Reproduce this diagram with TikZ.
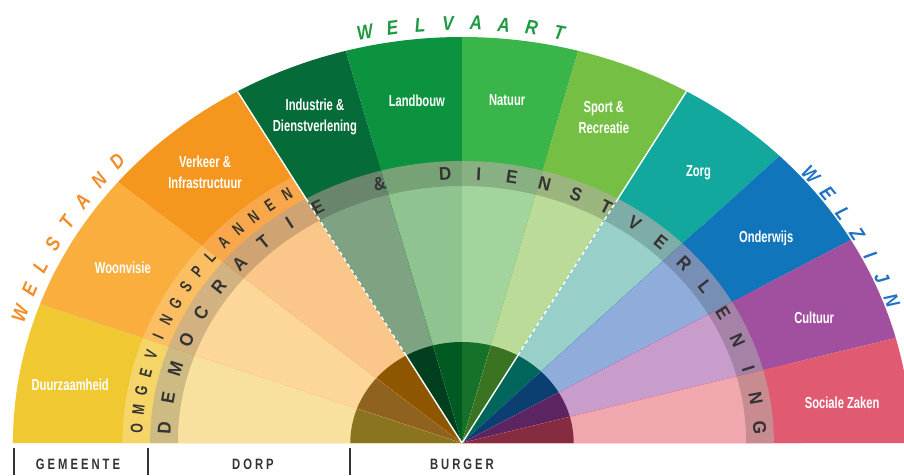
\documentclass[tikz,border=0pt]{standalone}
\usepackage{fontspec}
\setmainfont{Liberation Sans}
\newfontfamily\labelfont[FakeStretch=0.7]{Liberation Sans}
\newfontfamily\welfont[FakeStretch=0.85]{Liberation Sans}
\newfontfamily\demofont[FakeStretch=0.92]{Liberation Sans}
\newfontfamily\planfont[FakeStretch=0.72]{Liberation Sans}
\newfontfamily\basefont[FakeStretch=0.75,LetterSpace=20]{Liberation Sans}

\definecolor{duurzaam}{HTML}{F0C832}
\definecolor{duurzaamB}{HTML}{F5D468}
\definecolor{duurzaamL}{HTML}{F8E09E}
\definecolor{duurzaamD}{HTML}{8A7420}
\definecolor{woon}{HTML}{F9AE3E}
\definecolor{woonB}{HTML}{FBBE62}
\definecolor{woonL}{HTML}{FDD79A}
\definecolor{woonD}{HTML}{8F6220}
\definecolor{verkeer}{HTML}{F5961F}
\definecolor{verkeerB}{HTML}{F8A84A}
\definecolor{verkeerL}{HTML}{FAC68A}
\definecolor{verkeerD}{HTML}{8F5600}
\definecolor{industrie}{HTML}{056B38}
\definecolor{industrieL}{HTML}{7FA283}
\definecolor{industrieD}{HTML}{013F1F}
\definecolor{landbouw}{HTML}{0C9340}
\definecolor{landbouwL}{HTML}{8FC38F}
\definecolor{landbouwD}{HTML}{005A22}
\definecolor{natuur}{HTML}{39B54A}
\definecolor{natuurL}{HTML}{A4D49E}
\definecolor{natuurD}{HTML}{16722A}
\definecolor{sport}{HTML}{74BF44}
\definecolor{sportL}{HTML}{BADC98}
\definecolor{sportD}{HTML}{3A7322}
\definecolor{zorg}{HTML}{13A89E}
\definecolor{zorgL}{HTML}{98CFC9}
\definecolor{zorgD}{HTML}{00665C}
\definecolor{onderwijs}{HTML}{1175BB}
\definecolor{onderwijsL}{HTML}{90ACDA}
\definecolor{onderwijsD}{HTML}{0B3F72}
\definecolor{cultuur}{HTML}{A0509E}
\definecolor{cultuurL}{HTML}{C89CCB}
\definecolor{cultuurD}{HTML}{5C2460}
\definecolor{sociaal}{HTML}{E05A72}
\definecolor{sociaalL}{HTML}{F0A8AE}
\definecolor{sociaalD}{HTML}{852C40}
\colorlet{industrieB}{industrie}
\colorlet{landbouwB}{landbouw}
\colorlet{natuurB}{natuur}
\colorlet{sportB}{sport}
\colorlet{zorgB}{zorg}
\colorlet{onderwijsB}{onderwijs}
\colorlet{cultuurB}{cultuur}
\colorlet{sociaalB}{sociaal}
\definecolor{welstandtxt}{HTML}{F28C28}
\definecolor{welvaarttxt}{HTML}{1E9A40}
\definecolor{welzijntxt}{HTML}{2172C4}
\definecolor{ink}{HTML}{333333}

\tikzset{
  fanlabel/.style={text=white, font=\labelfont\bfseries\fontsize{16}{21}\selectfont, align=center, inner sep=0pt},
  welletter/.style={font=\welfont\bfseries\itshape\fontsize{20}{20}\selectfont, inner sep=0pt},
  bandletter/.style={text=ink, font=\demofont\bfseries\fontsize{18.5}{18.5}\selectfont, inner sep=0pt},
  planletter/.style={text=ink, font=\planfont\bfseries\fontsize{17}{17}\selectfont, inner sep=0pt},
  baselabel/.style={text=ink, font=\basefont\bfseries\fontsize{15}{15}\selectfont, inner sep=0pt},
  basetick/.style={draw=ink, line width=1.4pt},
  divider/.style={white, line width=1.4pt}
}

\begin{document}
\begin{tikzpicture}[x=1pt, y=1pt]
\useasboundingbox (-462,-32) rectangle (442,443);
\begin{scope}[xscale=1.106]
\foreach \a/\b/\col in {180/160/duurzaam, 160/140/woon, 140/120/verkeer,
  120/105/industrie, 105/90/landbouw, 90/75/natuur, 75/60/sport,
  60/45/zorg, 45/30/onderwijs, 30/15/cultuur, 15/0/sociaal}{
  \fill[fill=\col] (0,0) -- (\a:406pt) arc[start angle=\a, end angle=\b, radius=406pt] -- cycle;
  \fill[fill=\col B] (0,0) -- (\a:307pt) arc[start angle=\a, end angle=\b, radius=307pt] -- cycle;
  \fill[fill=\col L] (0,0) -- (\a:282pt) arc[start angle=\a, end angle=\b, radius=282pt] -- cycle;
  \fill[fill=\col D] (0,0) -- (\a:101pt) arc[start angle=\a, end angle=\b, radius=101pt] -- cycle;
}
\fill[black, opacity=0.17] (180:282pt) arc[start angle=180, end angle=0, radius=282pt]
  -- (0:257pt) arc[start angle=0, end angle=180, radius=257pt] -- cycle;
\foreach \a in {120,60}{
  \draw[divider] (0,0) -- (\a:101pt);
  \draw[divider, dash pattern=on 4pt off 3pt] (\a:101pt) -- (\a:282pt);
  \draw[divider] (\a:282pt) -- (\a:406pt);
}

\node[fanlabel] (duurzaamheid) at (170.7:359pt) {Duurzaamheid};
\node[fanlabel] (woonvisie) at (150.3:353pt) {Woonvisie};
\node[fanlabel] (verkeer) at (130.6:357pt) {Verkeer \&\\Infrastructuur};
\node[fanlabel] (industrie) at (112.2:352pt) {Industrie \&\\Dienstverlening};
\node[fanlabel] (landbouw) at (96.8:345pt) {Landbouw};
\node[fanlabel] (natuur) at (83.2:345pt) {Natuur};
\node[fanlabel] (sport) at (68.5:350pt) {Sport \&\\Recreatie};
\node[fanlabel] (zorg) at (51.7:345pt) {Zorg};
\node[fanlabel] (onderwijs) at (36.7:343pt) {Onderwijs};
\node[fanlabel] (cultuur) at (21.4:342pt) {Cultuur};
\node[fanlabel] (sociaal) at (6.6:346pt) {Sociale Zaken};

\foreach \ch [count=\i from 0] in {W,E,L,S,T,A,N,D}{
  \pgfmathsetmacro\t{150+(3.5-\i)*3.45}
  \pgfmathsetmacro\r{atan2(1.106*sin(\t),cos(\t))-90}
  \node[welletter, text=welstandtxt, rotate=\r] (welstand-\i) at (\t:420pt) {\ch};
}
\foreach \ch [count=\i from 0] in {W,E,L,V,A,A,R,T}{
  \pgfmathsetmacro\t{90+(3.5-\i)*3.45}
  \pgfmathsetmacro\r{atan2(1.106*sin(\t),cos(\t))-90}
  \node[welletter, text=welvaarttxt, rotate=\r] (welvaart-\i) at (\t:420pt) {\ch};
}
\foreach \ch [count=\i from 0] in {W,E,L,Z,I,J,N}{
  \pgfmathsetmacro\t{30.3+(3-\i)*3.37}
  \pgfmathsetmacro\r{atan2(1.106*sin(\t),cos(\t))-90}
  \node[welletter, text=welzijntxt, rotate=\r] (welzijn-\i) at (\t:414pt) {\ch};
}

\foreach \ch [count=\i from 0] in {O,M,G,E,V,I,N,G,S,P,L,A,N,N,E,N}{
  \pgfmathsetmacro\t{177.1-\i*3.64}
  \pgfmathsetmacro\r{atan2(1.106*sin(\t),cos(\t))-90}
  \node[planletter, rotate=\r] (plan-\i) at (\t:294.5pt) {\ch};
}
\foreach \ch [count=\i from 0] in {D,E,M,O,C,R,A,T,I,E}{
  \pgfmathsetmacro\t{176.8-\i*6.43}
  \pgfmathsetmacro\r{atan2(1.106*sin(\t),cos(\t))-90}
  \node[bandletter, rotate=\r] (demo-\i) at (\t:269.5pt) {\ch};
}
\pgfmathsetmacro\t{176.8-11*6.43}
\pgfmathsetmacro\r{atan2(1.106*sin(\t),cos(\t))-90}
\node[bandletter, rotate=\r] (en) at (\t:269.5pt) {\&};
\foreach \ch [count=\i from 13] in {D,I,E,N,S,T,V,E,R,L,E,N,I,N,G}{
  \pgfmathsetmacro\t{176.8-\i*6.43}
  \pgfmathsetmacro\r{atan2(1.106*sin(\t),cos(\t))-90}
  \node[bandletter, rotate=\r] (dienst-\i) at (\t:269.5pt) {\ch};
}
\end{scope}

\draw[basetick] (-448,-5) -- (-448,-32);
\draw[basetick] (-314,-5) -- (-314,-32);
\draw[basetick] (-112,-5) -- (-112,-32);
\node[baselabel] (gemeente) at (-384,-21) {GEMEENTE};
\node[baselabel] (dorp) at (-209,-21) {DORP};
\node[baselabel] (burger) at (0,-21) {BURGER};
\end{tikzpicture}
\end{document}
